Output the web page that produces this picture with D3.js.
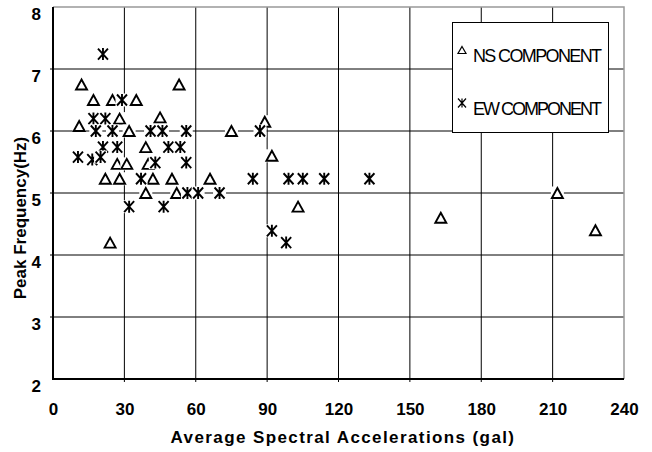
<!DOCTYPE html>
<html>
<head>
<meta charset="utf-8">
<script src="https://cdn.jsdelivr.net/npm/d3@7"></script>
<style>
  body { margin: 0; background: #fff; }
  text { font-family: "Liberation Sans", Arial, sans-serif; }
</style>
</head>
<body>
<div id="chart"></div>
<script>
// tick values
const xTicks = [0, 30, 60, 90, 120, 150, 180, 210, 240];
const yTicks = [2, 3, 4, 5, 6, 7, 8];

// series names (legend)
const seriesNames = ["NS COMPONENT", "EW COMPONENT"];

// NS component: [average spectral acceleration (gal), peak frequency (Hz)]
const nsPoints = [
    [12, 6.75], [17, 6.5], [25, 6.5], [35, 6.5], [53, 6.75],
    [11, 6.08], [28, 6.2], [32, 6.0], [45, 6.22], [89, 6.15], [75, 6.0],
    [39, 5.74], [27, 5.47], [31, 5.47], [40, 5.47], [92, 5.6],
    [22, 5.23], [28, 5.23], [42, 5.23], [50, 5.23], [66, 5.23],
    [39, 5.0], [52, 5.0], [103, 4.78], [24, 4.2],
    [163, 4.6], [212, 5.0], [228, 4.4]
];

// EW component
const ewPoints = [
    [21, 7.24], [29, 6.5], [17, 6.2], [22, 6.2],
    [18, 6.0], [25, 6.0], [41, 6.0], [46, 6.0], [56, 6.0], [87, 6.0],
    [21, 5.74], [27, 5.74], [48.5, 5.74], [53.5, 5.74],
    [10.5, 5.58], [16.5, 5.54], [20, 5.58], [43, 5.49], [56, 5.49],
    [37, 5.23], [84, 5.23], [99, 5.23], [105, 5.23], [114, 5.23], [133, 5.23],
    [56.5, 5.0], [61, 5.0], [70, 5.0],
    [32, 4.78], [46.5, 4.78], [92, 4.39], [98, 4.2]
];

const W = 652, H = 452;
const plot = { left: 53, right: 624, top: 7, bottom: 379 };

const svg = d3.select("#chart")
    .append("svg")
    .attr("width", W)
    .attr("height", H);

const x = d3.scaleLinear()
    .domain([0, 240])
    .range([plot.left, plot.right]);

const y = d3.scaleLinear()
    .domain([2, 8])
    .range([plot.bottom, plot.top]);

// gridlines
svg.append("g")
    .selectAll("line")
    .data(xTicks.slice(1, -1))
    .enter()
    .append("line")
    .attr("x1", d => x(d)).attr("x2", d => x(d))
    .attr("y1", plot.top).attr("y2", plot.bottom + 3)
    .attr("stroke", "#000")
    .attr("stroke-width", 1);

svg.append("g")
    .selectAll("line")
    .data(yTicks.slice(1, -1))
    .enter()
    .append("line")
    .attr("x1", plot.left - 3).attr("x2", plot.right)
    .attr("y1", d => y(d)).attr("y2", d => y(d))
    .attr("stroke", "#000")
    .attr("stroke-width", 1);

// top and right border (grey)
svg.append("path")
    .attr("d", `M${plot.left},${y(8)}H${x(240)}V${plot.bottom}`)
    .attr("fill", "none")
    .attr("stroke", "#999")
    .attr("stroke-width", 1.5);

// left and bottom axis lines
svg.append("path")
    .attr("d", `M${plot.left},${plot.top}V${plot.bottom}H${plot.right}`)
    .attr("fill", "none")
    .attr("stroke", "#000")
    .attr("stroke-width", 2);

// axis tick labels
const xAxis = svg.append("g")
    .attr("transform", `translate(0,${plot.bottom})`)
    .call(d3.axisBottom(x).tickValues(xTicks).tickSize(0).tickPadding(0).tickFormat(d3.format("d")));
xAxis.select(".domain").remove();
xAxis.selectAll("text")
    .attr("y", 36)
    .attr("dy", 0)
    .style("font-size", "17px")
    .style("font-weight", "bold")
    .style("fill", "#000");

const yAxis = svg.append("g")
    .attr("transform", `translate(${plot.left},0)`)
    .call(d3.axisLeft(y).tickValues(yTicks).tickSize(0).tickPadding(0).tickFormat(d3.format("d")));
yAxis.select(".domain").remove();
yAxis.selectAll("text")
    .attr("x", -12)
    .attr("dy", 12)
    .style("font-size", "17px")
    .style("font-weight", "bold")
    .style("fill", "#000");

// axis titles
svg.append("text")
    .attr("x", 343)
    .attr("y", 443)
    .attr("text-anchor", "middle")
    .style("font-size", "17px")
    .style("font-weight", "bold")
    .style("letter-spacing", "1.4px")
    .text("Average Spectral Accelerations (gal)");

svg.append("text")
    .attr("transform", "translate(26,218) rotate(-90)")
    .attr("text-anchor", "middle")
    .style("font-size", "17px")
    .style("font-weight", "bold")
    .text("Peak Frequency(Hz)");

// marker shapes
const triPath = "M0,-5L5.5,5L-5.5,5Z";
const starPath = "M-5,-5.5L5,5.5M-5,5.5L5,-5.5M0,-6V6";

function drawMarkers(points, path, isTri) {
    const g = svg.append("g")
        .selectAll("g")
        .data(points)
        .enter()
        .append("g")
        .attr("transform", d => `translate(${x(d[0])},${y(d[1])})`);
    g.append("rect")
        .attr("x", -6.5).attr("y", -6.5)
        .attr("width", 13).attr("height", 13)
        .attr("fill", "#fff");
    g.append("path")
        .attr("d", path)
        .attr("fill", isTri ? "#fff" : "none")
        .attr("stroke", "#000")
        .attr("stroke-width", 1.9);
}

drawMarkers(nsPoints, triPath, true);
drawMarkers(ewPoints, starPath, false);

// legend
const legend = svg.append("g");
legend.append("rect")
    .attr("x", 452.5).attr("y", 22.5)
    .attr("width", 156).attr("height", 110)
    .attr("fill", "#fff")
    .attr("stroke", "#000")
    .attr("stroke-width", 1);

const legendRows = [
    { name: seriesNames[0], path: "M0,-3.5L4,3.5L-4,3.5Z", yText: 62, yMark: 50 },
    { name: seriesNames[1], path: "M-4,-4.5L4,4.5M-4,4.5L4,-4.5M0,-4.5V4.5", yText: 115, yMark: 103 }
];

legend.selectAll(".lm")
    .data(legendRows)
    .enter()
    .append("path")
    .attr("class", "lm")
    .attr("transform", d => `translate(462,${d.yMark})`)
    .attr("d", d => d.path)
    .attr("fill", "none")
    .attr("stroke", "#000")
    .attr("stroke-width", 1.2);

legend.selectAll(".lt")
    .data(legendRows)
    .enter()
    .append("text")
    .attr("class", "lt")
    .attr("x", 473)
    .attr("y", d => d.yText)
    .attr("textLength", 129)
    .attr("lengthAdjust", "spacing")
    .style("font-size", "18px")
    .text(d => d.name);
</script>
</body>
</html>
